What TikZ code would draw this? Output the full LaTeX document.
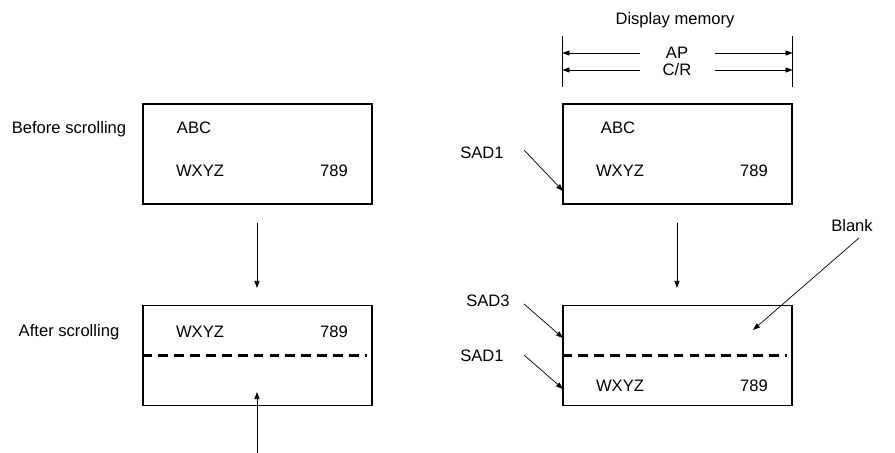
\documentclass[tikz,border=0pt]{standalone}
\usepackage{fontspec}
\setmainfont{Liberation Sans}
\usetikzlibrary{arrows.meta,positioning}
\tikzset{
  screen/.style={
    draw,
    rectangle,
    minimum width=5.725cm,
    minimum height=2.5cm,
    inner sep=0pt,
    line width=0.8pt,
  },
  txt/.style={font=\fontsize{11.8}{14}\selectfont, inner sep=0pt},
  pointer/.style={line width=0.5pt, -{Triangle[length=5pt,width=3.6pt]}},
  guide/.style={line width=0.5pt},
  scrollline/.style={line width=2pt, dash pattern=on 7pt off 4.3pt},
}
\begin{document}
\begin{tikzpicture}[x=0.025cm,y=-0.025cm]
  \useasboundingbox (0,0) rectangle (895,453);
  % screens before and after scrolling
  \node[screen] (Lt) at (257.5,154)   {};
  \node[screen] (Lb) at (257.5,355.5) {};
  \node[screen] (Rt) at (677.5,154)   {};
  \node[screen] (Rb) at (677.5,355.5) {};
  \draw[scrollline] (Lb.west) -- ([xshift=-0.15cm]Lb.east);
  \draw[scrollline] (Rb.west) -- ([xshift=-0.15cm]Rb.east);
  % left side
  \node[txt] (before) at (69,129) {Before scrolling};
  \node[txt] (after)  at (69,332) {After scrolling};
  \node[txt] (abcL)  at (194,128) {ABC};
  \node[txt] (wxyzL) at (200,171) {WXYZ};
  \node[txt] (numL)  at (334,171) {789};
  \node[txt] (wxyzL2) at (200,332) {WXYZ};
  \node[txt] (numL2)  at (334,332) {789};
  \coordinate (dnL) at (257,288);
  \coordinate (upL) at (257,392);
  \draw[pointer] ([yshift=-0.45cm]Lt.south -| dnL) -- (dnL);
  \draw[pointer] (257,453) -- (upL);
  % right side
  \node[txt] (mem) at (675,20) {Display memory};
  \node[txt] (ap) at (677,53) {AP};
  \node[txt] (cr) at (677,70) {C/R};
  \draw[guide] (Rt.west |- 0,36) -- (Rt.west |- 0,87);
  \draw[guide] (Rt.east |- 0,36) -- (Rt.east |- 0,87);
  \foreach \lab in {ap,cr} {
    \draw[pointer] ([xshift=-0.925cm]\lab.center) -- (\lab.center -| Rt.west);
    \draw[pointer] ([xshift=0.95cm]\lab.center) -- (\lab.center -| Rt.east);
  }
  \node[txt] (abcR)  at (618,128) {ABC};
  \node[txt] (wxyzR) at (620,171) {WXYZ};
  \node[txt] (numR)  at (754,171) {789};
  \node[txt] (wxyzR2) at (620,386) {WXYZ};
  \node[txt] (numR2)  at (754,386) {789};
  \coordinate (dnR) at (677,288);
  \draw[pointer] ([yshift=-0.45cm]Rt.south -| dnR) -- (dnR);
  % start address pointers
  \node[txt] (sadA) at (482,153) {SAD1};
  \node[txt] (sadC) at (488,301) {SAD3};
  \node[txt] (sadB) at (482,356) {SAD1};
  \node[txt] (blank) at (852,226) {Blank};
  \coordinate (tipA) at (563,191);
  \coordinate (tipC) at (563,338);
  \coordinate (tipB) at (563,389);
  \coordinate (tipBl) at (753,330);
  \draw[pointer] (524,150) -- (tipA);
  \draw[pointer] (524,304) -- (tipC);
  \draw[pointer] (524,355) -- (tipB);
  \draw[pointer] (859,238) -- (tipBl);
\end{tikzpicture}
\end{document}
